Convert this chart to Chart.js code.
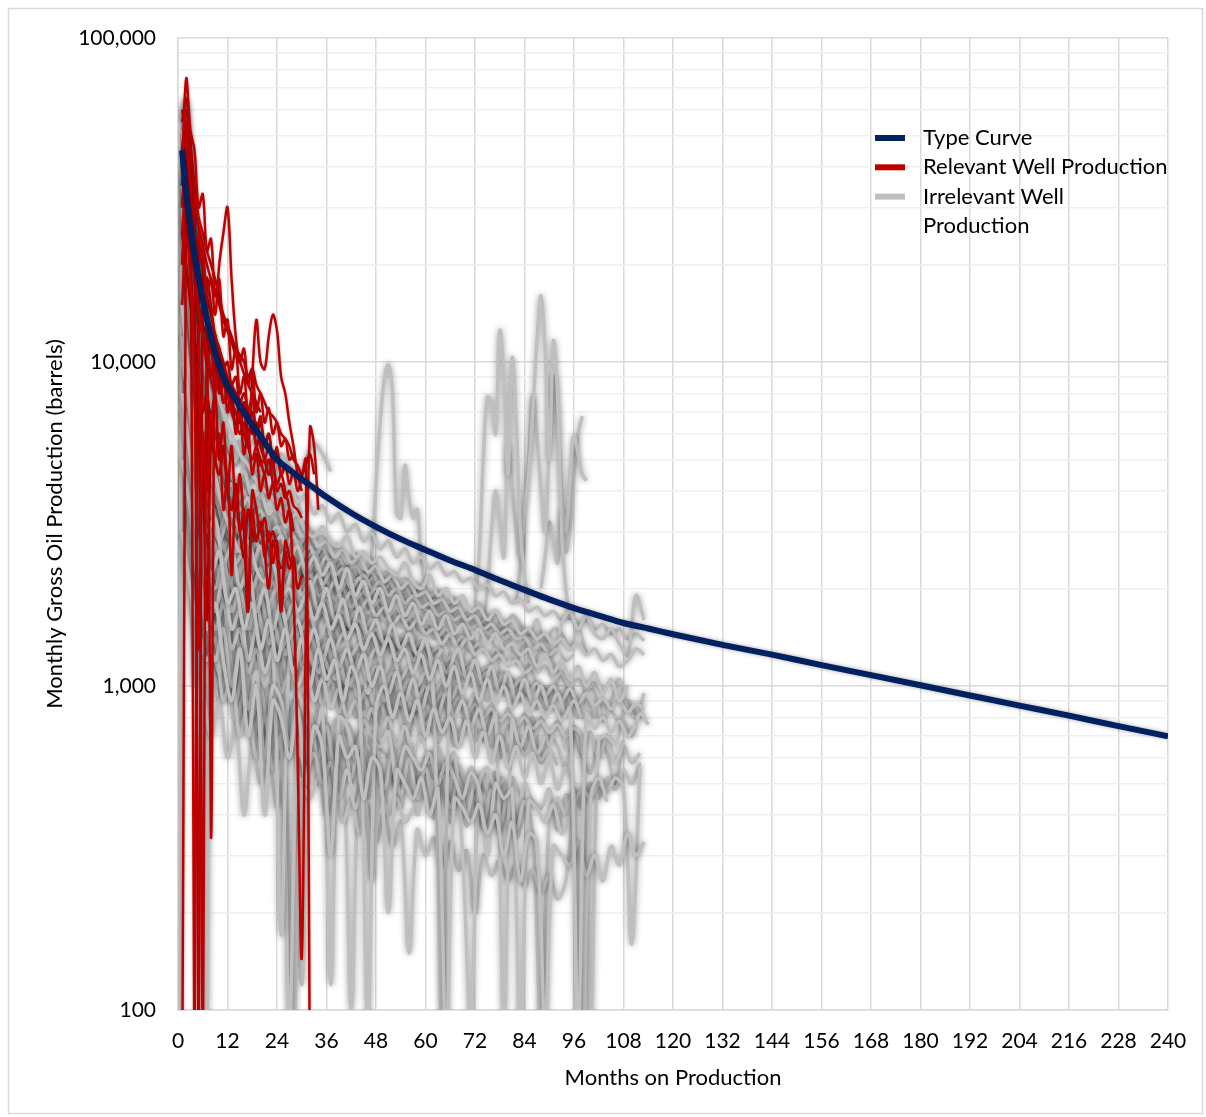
<!DOCTYPE html>
<html>
<head>
<meta charset="utf-8">
<script src="https://cdn.jsdelivr.net/npm/chart.js@4.4.1/dist/chart.umd.min.js"></script>
<style>
  html, body { margin: 0; padding: 0; background: #fff; }
  canvas { display: block; }
</style>
</head>
<body>
<canvas id="wells" width="1206" height="1117"></canvas>
<script>
// type curve (months, barrels)
const typeMonths = [1, 2, 3, 4, 5, 6, 7, 8, 9, 10, 11, 12, 14, 16, 18, 20, 22, 24, 27, 30, 33, 36, 42, 48, 54, 60, 66, 72, 78, 84, 90, 96, 102, 108, 114, 120, 132, 144, 156, 168, 180, 192, 204, 216, 228, 240];
const typeValues = [45000, 33000, 26500, 21500, 18200, 15600, 13600, 12000, 10700, 9750, 9000, 8450, 7650, 7000, 6400, 5900, 5400, 5000, 4650, 4350, 4080, 3830, 3420, 3100, 2840, 2630, 2440, 2280, 2120, 1980, 1850, 1740, 1650, 1565, 1505, 1445, 1340, 1250, 1160, 1080, 1005, 935, 870, 810, 752, 700];

// relevant wells, monthly from month 1
const r01 = [40000, 75000, 52000, 45000, 30000, 33000, 22000, 24000, 16000, 18000, 12000, 13500, 9500, 11000, 8000, 9000, 7000, 7800, 6000, 6800, 5500, 6000, 5000, 5400, 4500, 4800];
const r02 = [30000, 45000, 35000, 25000, 20000, 22000, 16000, 18000, 14000, 20000, 25000, 30000, 18000, 12000, 10000, 11000, 8500, 9500, 7000, 8000, 6500, 7200, 6000, 6500, 5500, 5800, 5000, 5200];
const r03 = [25000, 35000, 28000, 20000, 15000, 12000, 11000, 9000, 8000, 9500, 7500, 8000, 7000, 6500, 7000, 6000, 5500, 9000, 13500, 10000, 9500, 12000, 14000, 12500, 9000, 8000, 6500, 5500, 4500, 4000];
const r04 = [20000, 30000, 25000, 18000, 14000, 12000, 10000, 11000, 8500, 9000, 7500, 8000, 7000, 6500, 6000, 6500, 5500, 5000, 5500, 4800, 5000, 4500, 4800, 4200, 4500, 4000, 3500, 2000, 600, 145, 1500, 6300, 5500, 3500];
const r05 = [30000, 40000, 30000, 22000, 18000, 15000, 13000, 11000, 10000, 9000, 8500, 8000, 7500, 7000, 6500, 7500, 6000, 6500, 5500, 6000, 5000, 5500, 4800, 5200, 4500, 4800, 4200, 4600, 4000, 4400, 5000, 50];
const r06 = [15000, 25000, 18000, 9000, 1300, 6000, 4000, 7000, 5000, 6000, 3500, 4500, 2200, 4000, 3000, 3500, 1700, 3500, 2800, 3200, 2500, 3000, 2400, 2800, 1700, 2600, 2300, 2500, 2000, 2200];
const r07 = [50, 50000, 30000, 25000, 20000, 50, 18000, 15000, 12000, 11000, 10000, 9000, 8500, 8000, 7000, 7500, 6500, 7000, 6000, 6500, 5500, 6000, 5000, 5500];
const r08 = [35000, 55000, 40000, 50, 25000, 20000, 15000, 340, 12000, 10000, 9500, 8500, 7500, 8000, 6500, 7000, 6000, 6500, 5500, 5000, 4500, 5000, 4200];
const r09 = [45000, 60000, 45000, 30000, 50, 20000, 16000, 14000, 12000, 11000, 9500, 10000, 8500, 9000, 7500, 8000, 7000, 6000, 6500, 5500, 5000, 4500, 4800, 4000, 4200, 3800, 4000, 3600, 3500, 3300];
const r10 = [20000, 28000, 20000, 12000, 8000, 5000, 1600, 6000, 8000, 5000, 6500, 4000, 5500, 3500, 4500, 3000, 1700, 4000, 3500, 3000, 3300, 2800, 3000, 2600, 1700, 2800, 2500, 2300];
const r11 = [55000, 65000, 48000, 35000, 28000, 25000, 22000, 20000, 18000, 16000, 14000, 13000, 12000, 11000, 10500, 10000, 9000, 9500, 8500, 8000, 7500, 7000, 6800, 6500, 6000, 5800, 5500, 5000, 4800, 4500, 4800, 5200, 4500];
const r12 = [25000, 20000, 15000, 12000, 9000, 7000, 8000, 6000, 5000, 4500, 5500, 4000, 3500, 4200, 3000, 2500, 3500, 3000, 2800, 3200, 2600, 2000, 2800, 2500, 2300];
const r13 = [60000, 50000, 38000, 30000, 26000, 23000, 20000, 18000, 16500, 15000, 13500, 12500, 11500, 10500, 10000, 9200, 8500, 8000, 7500, 7000];
const r14 = [45000, 35000, 25000, 19000, 15000, 13000, 12000, 9000, 11000, 8000, 9500, 7000, 8000, 6000, 7000, 5200, 6000, 4500, 5200, 4000, 4500, 3800, 4200, 3500, 3800, 3200, 3500, 3000];
const relevantWells = [r01, r02, r03, r04, r05, r06, r07, r08, r09, r10, r11, r12, r13, r14];

// irrelevant wells
const g01 = [52000, 30000, 18000, 12000, 8500, 7000, 6000, 5200, 4800, 4300, 4000, 3800, 3500, 3300, 3400, 3000, 2900, 3100, 2800, 2700, 2900, 2500, 2600, 2400, 2500, 2300, 2200, 2400, 2100, 2000, 2200, 1900, 2000, 1800, 1900, 1700, 1750, 1600, 1700, 1550, 1600, 1450, 1500, 1400, 1450, 1350, 1400, 1300, 1350, 1250, 1300, 1200, 1250, 1150, 1200, 1300, 1250];
const g02 = [35000, 20000, 9000, 6000, 4500, 3500, 3000, 2600, 2800, 2300, 2100, 2400, 1900, 2000, 1700, 1900, 1600, 1800, 1500, 1650, 1400, 1550, 1300, 1450, 1250, 1400, 1200, 1300, 1100, 1250, 1050, 1200, 1000, 1150, 950, 1100, 900, 1050, 880, 1000, 850, 950, 820, 900, 800, 870, 780, 850, 90, 820, 740, 800, 720, 780, 700, 760];
const g03 = [8000, 5000, 2500, 1500, 1800, 1200, 900, 1300, 700, 1000, 400, 900, 800, 600, 850, 500, 750, 650, 300, 700, 600, 650, 450, 600, 550, 200, 550, 500, 450, 520, 400, 480, 80, 450, 420, 380, 430, 350, 400, 300, 380, 250, 350, 330, 90, 320, 300, 280, 330, 260, 300, 250, 320, 280, 350, 300, 330];
const g04 = [30000, 15000, 8000, 6500, 5500, 4000, 4200, 3500, 3800, 3000, 3200, 2700, 2900, 2500, 2700, 2300, 2500, 2200, 2400, 2000, 2300, 1900, 2100, 1800, 2000, 1700, 1900, 1650, 1800, 1550, 1700, 1500, 1650, 1450, 1550, 1400, 1500, 1350, 1450, 1300, 1350, 1250, 1300, 1150, 1250, 1100, 1200, 1050, 1150, 1000, 1100, 950, 1050, 900, 1000];
const g05 = [9000, 5000, 3000, 2200, 2600, 1800, 2000, 1500, 1800, 1300, 1600, 1200, 1500, 1100, 1400, 1000, 1300, 1050, 1200, 900, 1150, 950, 90, 850, 1000, 800, 950, 780, 900, 700, 850, 720, 800, 650, 780, 600, 720, 580, 700, 560, 650, 520, 620, 500, 600, 480, 560, 460, 80, 450, 520, 440];
const g06 = [25000, 12000, 7000, 4500, 3800, 3200, 2600, 3000, 2400, 2700, 2200, 2500, 2000, 2300, 1900, 2100, 1700, 2000, 1600, 1850, 1500, 1750, 1450, 1600, 1350, 1550, 1300, 1450, 1250, 1400, 900, 90, 1100, 1300, 1050, 1200, 1000, 1150, 950, 1100, 900, 1050, 880, 1000, 850, 950, 820, 900, 800, 850];
const g07 = [5000, 3500, 2000, 1600, 1200, 1500, 1000, 1300, 850, 1100, 600, 1000, 900, 650, 950, 800, 700, 850, 120, 800, 750, 600, 780, 700, 650, 720, 500, 650, 600, 550, 620, 500, 580, 520, 450, 540, 480, 300, 500, 450, 480, 80, 440, 420, 380, 430, 350, 400];
const g08 = [45000, 22000, 11000, 7500, 6000, 5000, 4200, 4600, 3800, 4000, 3400, 3700, 3100, 3300, 2900, 3000, 2700, 2800, 2500, 2650, 2400, 2500, 2250, 2350, 2100, 2200, 2000, 2100, 1900, 1950, 1800, 1850, 1700, 1750, 1600, 1650, 1500, 1550, 1450, 1500, 1400, 1420, 1300, 1350, 1250, 1300, 1200, 1250];
const g09 = [15000, 8000, 4500, 3000, 3300, 2400, 2700, 2000, 2300, 1700, 2000, 1500, 1800, 1400, 1600, 1300, 1500, 1200, 1400, 1150, 1300, 1100, 1250, 1000, 1150, 950, 1100, 900, 1050, 850, 1000, 820, 950, 800, 900, 750, 850, 700, 820, 90, 780, 650, 750, 620, 700];
const g10 = [18000, 9000, 6000, 5000, 4000, 3600, 3200, 2800, 3100, 2600, 2900, 2400, 2600, 2200, 2400, 2000, 2200, 1900, 2100, 1800, 1950, 1700, 1850, 1650, 1750, 1550, 1650, 1500, 1600, 1450, 1500, 1350, 1450, 1300, 1400, 1250, 1300, 1200, 1250, 1150, 1200, 1100, 1150];
const g11 = [12000, 6000, 3500, 2000, 1700, 2200, 1500, 1700, 1200, 1500, 1100, 1300, 170, 1200, 1000, 1150, 900, 1050, 850, 980, 800, 900, 750, 850, 700, 800, 650, 750, 620, 700, 580, 650, 550, 620, 300, 90, 500, 560, 480, 520];
const g12 = [22000, 10000, 5000, 3500, 2800, 3200, 2400, 2600, 2000, 2300, 1800, 2000, 1600, 1800, 1500, 1650, 1400, 1550, 1300, 1450, 1250, 1350, 1200, 1300, 1100, 1250, 1050, 1150, 1000, 1100, 950, 1050, 900, 1000, 850, 950, 820];
const g13 = [60000, 35000, 15000, 9000, 7000, 5500, 4800, 5200, 4200, 4500, 3700, 4000, 3300, 3600, 3000, 3200, 2800, 2900, 2600, 2700, 2400, 2550, 2300, 2400, 2200, 2250, 2100, 2150, 2000, 2050, 1900, 1950, 1800, 1850, 1700];
const g14 = [30000, 14000, 8000, 4000, 3000, 3500, 2700, 3000, 2300, 2600, 2100, 2400, 1900, 2200, 1800, 2000, 1700, 1850, 1600, 1700, 1500, 1600, 1400, 1500, 1350, 1450, 1300, 1400, 1250, 1350, 1200, 1300];
const g15 = [3000, 2000, 1500, 1200, 1400, 900, 1100, 700, 900, 600, 800, 550, 700, 90, 650, 550, 620, 500, 580, 450, 550, 420, 500, 250, 480, 400, 450, 380, 420];
const g16 = [40000, 20000, 10000, 6000, 5000, 4300, 3700, 4000, 3200, 3500, 2900, 3100, 2700, 2900, 2500, 2700, 2300, 2500, 2200, 2300, 2000, 2150, 1900, 2000, 1800];
const g17 = [10000, 7000, 4000, 2500, 2000, 2500, 1700, 2000, 1500, 1800, 1400, 1600, 1300, 1450, 1200, 1350, 1150, 1250, 1100, 1200, 1000, 1100];
const g18 = [28000, 15000, 9000, 5500, 4500, 3500, 3000, 3300, 2700, 2900, 2400, 2600, 2200, 2400, 2000, 2200, 1900, 2000];
const g19 = [7000, 4000, 2500, 2000, 1500, 1800, 1300, 1500, 1100, 1300, 1000, 1200, 950, 1100, 900, 1000, 850];
const g20 = [2500, 1500, 1000, 700, 900, 600, 750, 400, 650, 500, 600, 420, 550, 90, 500, 450, 520, 400, 480, 380, 450, 350, 430, 330, 400, 320, 380, 150, 360, 300, 340, 280, 330, 270, 310, 200, 300, 260, 290, 250, 280, 240, 270, 230, 260, 220, 250, 420, 480, 450, 500, 470, 520, 480, 160, 560];
const g21 = [38000, 20000, 10000, 7000, 5500, 4500, 4000, 3500, 3800, 3200, 3400, 2900, 3100, 2700, 2800, 2500, 2600, 2300, 2450, 2200, 2300, 2100, 2200, 2000, 2100, 1900, 2000, 1800, 1900, 1750, 1800, 1650, 1700, 1600, 1650, 1500, 1550, 1450, 1500, 1400, 1450, 1350, 1400, 1300, 1350, 1250, 1550, 1700, 1500, 1650, 1450, 1400, 1500, 1350, 1250, 1900, 1600];
const g22 = [12000, 6500, 4000, 3000, 2500, 2200, 1900, 2100, 1700, 1900, 1500, 1700, 1400, 1550, 1300, 1450, 1250, 1350, 1150, 1250, 1100, 1200, 1050, 1150, 1000, 1100, 950, 1050, 920, 1000, 880, 950, 850, 920, 820, 880, 800, 850, 780, 820, 760, 800, 740, 780, 720, 760, 700, 740, 690, 90, 680, 700, 660, 780, 700, 820, 760];
const g23 = [16000, 9000, 5500, 4000, 3200, 2700, 2300, 2600, 2100, 2300, 1900, 2100, 1800, 1950, 1700, 1800, 1600, 1700, 1500, 1600, 1450, 1550, 1400, 1450, 1300, 1400, 1250, 1350, 1200, 1300, 1150, 1250, 1100, 1200, 1080, 1150, 1050, 1100, 1000, 1080, 980, 1050, 950, 1020, 930, 1000, 900, 980, 880, 950, 870, 920, 850, 900, 830, 880, 850];
const g24 = [50, 20000, 45000, 30000, 15000, 9000, 6000, 4000, 3000, 2500, 2200, 2000];
const g25 = [50, 60000, 65000, 40000, 20000, 12000, 8000, 50, 6000, 4000, 3500, 3000];
const n01 = [38000, 21000, 12000, 9000, 7000, 6000, 5300, 5700, 4800, 5100, 4400, 4700, 4000, 4200, 3700, 3900, 3400, 3600, 3200, 3400, 3000, 3150, 2800, 2950, 2650, 2800, 2500, 2650, 2400, 2500, 2300, 2400, 2200, 2250, 2100, 2150, 2000, 2050, 1900, 1950, 1800, 1850, 1700, 1750, 1650, 1700, 1600, 1650, 1550, 1600, 1500, 1550, 1450, 1500, 1400, 1450, 1380];
const n02 = [14000, 7000, 4000, 3000, 2000, 2600, 1700, 2200, 1500, 2000, 1350, 1800, 1250, 1650, 1150, 1500, 1100, 1400, 1050, 1300, 1000, 1250, 950, 1200, 900, 1150, 880, 1100, 850, 1050, 820, 1000, 800, 950, 780, 920, 750, 880, 720, 850, 700, 820, 680, 800, 660, 780, 640, 750, 620, 720, 600, 700, 580, 680];
const n03 = [25000, 14000, 8000, 6000, 4500, 3800, 4200, 3300, 3600, 2900, 3100, 2600, 2800, 2400, 2600, 2200, 2400, 2050, 2250, 1950, 2100, 1850, 1950, 1750, 1850, 1650, 1750, 1580, 1650, 1500, 1580, 1420, 1500, 1350, 1420, 1300, 1350, 1250, 1300, 1200, 1250, 1150, 1200, 1100, 1150, 1050, 1100, 1000, 1050, 980, 1020, 950];
const n04 = [6000, 3500, 2000, 1500, 1100, 1400, 900, 1200, 800, 1000, 700, 950, 650, 850, 120, 800, 600, 750, 550, 700, 520, 680, 500, 650, 480, 620, 460, 600, 450, 560, 430, 540, 420, 520, 400, 500, 380, 480, 370, 460, 360, 440, 350, 90, 380, 450, 400, 480, 420, 500, 450, 520, 480, 550, 500, 580];
const n05 = [20000, 11000, 6500, 5000, 3800, 3300, 2800, 3100, 2500, 2700, 2200, 2400, 2000, 2200, 1850, 2000, 1750, 1900, 1650, 1800, 1550, 1700, 1500, 1600, 1400, 1500, 1350, 1450, 1300, 1380, 1250, 1320, 1200, 1250, 1150, 1200, 1100, 1150, 1050, 1100, 1000, 1050, 980, 1020, 950, 1000, 920, 980, 900];
const n06 = [10000, 6000, 3500, 2600, 2000, 1700, 2000, 1500, 1700, 1300, 1500, 1200, 1400, 1100, 1250, 1050, 1200, 1000, 1100, 950, 1050, 900, 1000, 850, 950, 820, 900, 800, 860, 760, 820, 730, 790, 700, 760, 680, 730, 650, 700, 630, 680, 610, 660, 590, 640, 570];
const n07 = [32000, 17000, 9500, 6500, 5200, 4500, 3900, 4300, 3500, 3800, 3100, 3400, 2900, 3100, 2700, 2900, 2500, 2700, 2350, 2500, 2250, 2400, 2150, 2250, 2050, 2150, 1950, 2050, 1850, 1950, 1780, 1850, 1700, 1780, 1620, 1700, 1550, 1620, 1500, 1560, 1450, 1500, 1400, 1450, 1350];
const n08 = [4000, 2500, 1600, 1200, 900, 1100, 750, 950, 650, 850, 600, 780, 560, 720, 530, 680, 500, 650, 480, 620, 100, 600, 450, 580, 430, 560, 420, 540, 400, 520, 390, 500, 380, 480, 370, 460, 360, 440, 350, 430, 340, 420];
const n09 = [18000, 9500, 5500, 4000, 3200, 2700, 2400, 2700, 2100, 2400, 1900, 2150, 1750, 1950, 1650, 1850, 1550, 1750, 1480, 1650, 1420, 1580, 1360, 1500, 1300, 1450, 1250, 1380, 1200, 1320, 1150, 1260, 1100, 1200, 1060, 1150, 1020, 1100, 980, 1050];
const n10 = [22000, 12000, 7000, 5000, 4000, 3500, 3000, 3300, 2700, 2900, 2450, 2650, 2250, 2450, 2100, 2250, 1950, 2100, 1850, 2000, 1750, 1900, 1680, 1800, 1600, 1700, 1520, 1620, 1450, 1550, 1400, 1480, 1350, 1420, 1300];
const n11 = [9000, 5000, 3000, 2200, 1800, 1500, 1800, 1300, 1550, 1150, 1400, 1050, 1300, 980, 1200, 920, 1120, 870, 1050, 830, 1000, 800, 950, 770, 900, 740, 860, 710, 820, 690, 790, 670, 760, 650];
const n12 = [35000, 18000, 10000, 7000, 5500, 4500, 3900, 4200, 3400, 3700, 3000, 3300, 2800, 3000, 2600, 2800, 2450, 2600, 2300, 2450, 2200, 2300, 2100, 2200, 2000, 2100, 1950, 2000, 1900];
const n13 = [13000, 7000, 4200, 3200, 2500, 2100, 2500, 1800, 2100, 1600, 1900, 1500, 1700, 1400, 1600, 1300, 1500, 1250, 1400, 1200, 1300, 1150, 1250];
const n14 = [50000, 25000, 14000, 9000, 7000, 5500, 4800, 5300, 4300, 4700, 3900, 4200, 3600, 3900, 3400];
const n15 = [55000, 62000, 40000, 28000, 22000, 18000, 15000, 13000, 11000, 9500, 8500, 7800, 7000, 6500];
const n16 = [3000, 5000, 2000, 1000, 1500, 2500, 1200, 1800, 1300, 2200, 1500, 1700, 1100, 1500, 1300, 1400];
const q01 = [20000, 9000, 4000, 2800, 3500, 2200, 1900, 2600, 2300, 1700, 2100, 2500, 1800, 1600, 2200, 1900, 1500, 1700, 2000, 1400, 1600, 1800, 1300, 1250, 1700, 1500, 1150, 1400, 1550, 1100, 1300, 1250, 1450, 1000, 1200, 1350, 980, 1100, 1250, 950, 1050, 900, 1150, 1000, 850, 950, 1100, 900, 800, 1000, 950, 780, 900, 1050, 850, 800, 950];
const q02 = [8000, 4000, 2400, 1600, 1900, 1300, 1500, 1750, 1100, 1400, 1200, 950, 1350, 1000, 1250, 1150, 850, 1200, 1050, 800, 1100, 950, 1000, 750, 900, 1050, 800, 700, 950, 850, 720, 900, 780, 650, 850, 760, 680, 820, 600, 750, 700, 640, 800, 580, 700, 650, 560, 720, 600, 540, 680, 620, 500, 650, 580, 620];
const q03 = [28000, 13000, 7000, 5000, 4300, 3200, 3900, 3000, 2600, 3300, 2700, 2400, 3000, 2500, 2200, 2800, 2300, 2600, 2050, 2400, 2250, 1900, 2300, 2000, 1800, 2150, 1950, 1750, 2050, 1800, 1700, 1950, 1650, 1850, 1600, 1550, 1800, 1500, 1700, 1450, 1650, 1550, 1400, 1600, 1350, 1500, 1450, 1300, 1500, 1250];
const q04 = [5000, 2500, 1800, 1200, 1000, 1300, 800, 1100, 950, 700, 1000, 850, 600, 900, 750, 680, 850, 550, 780, 700, 500, 720, 650, 600, 480, 680, 560, 620, 450, 600, 520, 580, 420, 560, 500, 460, 540, 400, 520, 470, 380, 500, 440, 420, 480, 360, 460, 430];
const q05 = [12000, 6000, 3600, 2700, 2100, 2500, 1900, 1700, 2200, 1600, 1900, 1450, 1750, 1600, 1300, 1650, 1400, 1250, 1550, 1350, 1500, 1200, 1400, 1300, 1100, 1350, 1200, 1050, 1250, 1150, 1000, 1200, 1080, 950, 1150, 1000, 1080, 900, 1050, 980, 880, 1000, 920, 850, 980, 870, 820, 950, 860, 900, 800, 880, 840, 780, 900, 820, 800];
const q06 = [16000, 8000, 5000, 3600, 2900, 3300, 2500, 2800, 2300, 2100, 2600, 2200, 1900, 2400, 2000, 2200, 1800, 1700, 2100, 1850, 1650, 1950, 1750, 1600, 1850, 1550, 1700, 1500, 1650, 1450, 1550, 1400, 1600, 1350, 1500, 1300, 1450, 1380, 1250, 1400, 1200, 1350, 1150, 1300, 1250, 1100];
const q07 = [4000, 2800, 1800, 1400, 1100, 900, 1200, 1000, 750, 1050, 900, 650, 950, 820, 700, 880, 600, 800, 720, 560, 760, 680, 520, 720, 640, 600, 480, 680, 600, 450, 620, 560, 520, 600, 430, 560, 500, 470, 540, 400, 520, 460, 430];
const q08 = [20000, 11000, 6000, 4200, 3500, 2900, 3400, 2700, 3000, 2500, 2800, 2300, 2600, 2350, 2100, 2500, 2200, 2000, 2350, 2100, 1900, 2200, 2000, 1850, 2100, 1800, 1950, 1700, 1850, 1650, 1800, 1600, 1700, 1550, 1650];
const q09 = [9000, 5000, 3000, 2000, 1600, 2000, 1400, 1700, 1250, 1500, 1100, 1350, 1200, 1000, 1300, 1100, 950, 1200, 1050, 900, 1150, 1000, 850, 1100, 950, 820, 1050, 900, 800, 1000, 880];
const q10 = [18000, 9000, 5500, 4000, 3300, 2800, 3200, 2600, 2900, 2400, 2700, 2300, 2500, 2200, 2400, 2100, 2300, 2000, 2200, 1950, 2100, 1900, 2000, 1850, 1950];
const s01 = [1500, 1300, 1700, 2600, 4200, 6500, 8800, 9800, 8000, 3400, 3300, 4800, 3800, 3300, 3500, 2400, 2000, 1800, 1900, 1500];
const s02 = [1800, 2500, 5000, 7800, 7500, 6000, 12500, 9000, 4500, 10300, 6500, 3000, 2200, 1800];
const s03 = [1500, 2000, 3000, 4000, 3200, 2500, 5500, 4000, 3000, 2500, 3500, 4500, 7000, 11500, 16000, 11000, 5000, 11600, 8000, 3000, 2000, 1600];
const s04 = [1800, 2400, 3500, 5000, 7800, 6000, 4000, 3000, 5500, 9000, 7000, 4000, 3000, 4500, 5900, 5200, 4500, 4300];
const s05 = [2000, 2500, 3200, 2800, 2400, 3500, 2600, 3000, 4500, 6000, 6800];
const s06 = [40000, 25000, 14000, 10000, 8000, 7000, 7300, 6500, 5500, 5800, 5000, 4600, 5200, 4800, 4300, 5000, 5600, 5200, 4600];
const irrelevantWells = [g01, g02, g03, g04, g05, g06, g07, g08, g09, g10, g11, g12, g13, g14, g15, g16, g17, g18, g19, g20, g21, g22, g23, g24, g25,
  n01, n02, n03, n04, n05, n06, n07, n08, n09, n10, n11, n12, n13, n14, n15, n16,
  q01, q02, q03, q04, q05, q06, q07, q08, q09, q10, s01, s02, s03, s04, s05, s06];
const irrelevantStart = [1, 1, 1, 1, 2, 2, 1, 2, 1, 2, 1, 2, 1, 2, 1, 2, 1, 2, 1, 2, 1, 2, 1, 0, 0,
  1, 2, 1, 2, 1, 2, 1, 2, 1, 2, 1, 2, 1, 2, 1, 1,
  1, 2, 1, 2, 1, 2, 1, 2, 1, 2, 44, 72, 74, 82, 88, 1];
const irrelevantStep = [2, 2, 2, 2, 2, 2, 2, 2, 2, 2, 2, 2, 2, 2, 2, 2, 2, 2, 2, 2, 2, 2, 2, 1, 1,
  2, 2, 2, 2, 2, 2, 2, 2, 2, 2, 2, 2, 2, 2, 1, 1,
  2, 2, 2, 2, 2, 2, 2, 2, 2, 2, 1, 1, 1, 1, 1, 2];

// axes
const yDecades = [100, 1000, 10000, 100000];
const ySteps = [1, 2, 3, 4, 5, 6, 7, 8, 9];
const xMax = 240;
const xStep = 12;

const legendItems = [
  { color: '#002060', lines: ['Type Curve'] },
  { color: '#C00000', lines: ['Relevant Well Production'] },
  { color: '#BFBFBF', lines: ['Irrelevant Well', 'Production'] }
];

function wellPoints(vals, start, step) {
  return vals.map((v, i) => ({ x: start + i * step, y: v }));
}

const datasets = [];
datasets.push({
  label: 'Type Curve',
  data: typeMonths.map((m, i) => ({ x: m, y: typeValues[i] })),
  borderColor: '#002060', borderWidth: 6, cubicInterpolationMode: 'monotone',
  glow: 'rgba(0,0,0,0.35)', glowBlur: 4
});
relevantWells.forEach((w, i) => datasets.push({
  label: 'Relevant ' + (i + 1),
  data: wellPoints(w, 1, 1),
  borderColor: '#C00000', borderWidth: 2.5, tension: 0.35,
  glow: 'rgba(0,0,0,0.25)', glowBlur: 3
}));
irrelevantWells.forEach((w, i) => datasets.push({
  label: 'Irrelevant ' + (i + 1),
  data: wellPoints(w, irrelevantStart[i], irrelevantStep[i]),
  borderColor: '#BFBFBF', borderWidth: 3.5, tension: 0.35,
  glow: 'rgba(0,0,0,0.4)', glowBlur: 6
}));
datasets.forEach(d => { d.pointRadius = 0; d.fill = false; d.clip = 0; });

const glowPlugin = {
  id: 'glow',
  beforeDatasetDraw(chart, args) {
    const ds = chart.data.datasets[args.index];
    const ctx = chart.ctx;
    ctx.save();
    ctx.shadowColor = ds.glow;
    ctx.shadowBlur = ds.glowBlur;
  },
  afterDatasetDraw(chart) {
    chart.ctx.restore();
  }
};

const framePlugin = {
  id: 'frame',
  beforeDraw(chart) {
    const ctx = chart.ctx;
    ctx.save();
    ctx.fillStyle = '#fff';
    ctx.fillRect(0, 0, chart.width, chart.height);
    ctx.strokeStyle = '#d9d9d9';
    ctx.lineWidth = 1.5;
    ctx.strokeRect(8.5, 8.5, chart.width - 12, chart.height - 12);
    ctx.restore();
  },
  afterDraw(chart) {
    const ctx = chart.ctx;
    ctx.save();
    ctx.font = '22px Lato';
    ctx.fillStyle = '#000';
    ctx.textBaseline = 'middle';
    let y = 138;
    legendItems.forEach(item => {
      ctx.strokeStyle = item.color;
      ctx.lineWidth = 6;
      ctx.beginPath();
      ctx.moveTo(875, y);
      ctx.lineTo(905, y);
      ctx.stroke();
      item.lines.forEach(t => {
        ctx.fillText(t, 923, y);
        y += 29.3;
      });
    });
    ctx.restore();
  }
};

Chart.defaults.font.family = 'Lato';
Chart.defaults.font.size = 21;
Chart.defaults.color = '#000';

new Chart(document.getElementById('wells'), {
  type: 'line',
  data: { datasets: datasets },
  plugins: [glowPlugin, framePlugin],
  options: {
    responsive: false,
    animation: false,
    devicePixelRatio: 1,
    layout: { padding: { left: 0, right: 38, top: 38, bottom: 0 } },
    plugins: { legend: { display: false }, tooltip: { enabled: false } },
    scales: {
      x: {
        type: 'linear',
        min: 0, max: xMax,
        afterFit: s => { s.height = 107; },
        ticks: { stepSize: xStep, padding: 19, maxRotation: 0, autoSkip: false },
        grid: { color: '#d9d9d9', lineWidth: 1.5, drawTicks: false },
        border: { color: '#d9d9d9', width: 1.5 },
        title: { display: true, text: 'Months on Production', font: { size: 22 }, padding: { top: 0, bottom: 26 } }
      },
      y: {
        type: 'logarithmic',
        min: yDecades[0], max: yDecades[yDecades.length - 1],
        afterFit: s => { s.width = 178; },
        afterBuildTicks: s => {
          const t = [];
          yDecades.forEach((d, i) => {
            ySteps.forEach(k => {
              if (i < yDecades.length - 1 || k === 1) t.push({ value: d * k });
            });
          });
          s.ticks = t;
        },
        ticks: {
          padding: 22, autoSkip: false,
          callback: v => yDecades.includes(v) ? v.toLocaleString('en-US') : ''
        },
        grid: {
          drawTicks: false,
          lineWidth: 1.5,
          color: c => yDecades.includes(c.tick && c.tick.value) ? '#d9d9d9' : '#efefef'
        },
        border: { color: '#d9d9d9', width: 1.5 },
        title: { display: true, text: 'Monthly Gross Oil Production (barrels)', font: { size: 22 }, padding: { top: 42, bottom: 0 } }
      }
    }
  }
});
</script>
</body>
</html>
